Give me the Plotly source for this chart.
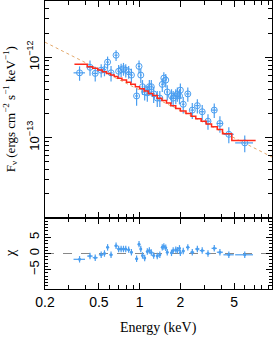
import plotly.graph_objects as go

# ---- data ----
energy = [0.36, 0.43, 0.47, 0.52, 0.55, 0.58, 0.615, 0.67, 0.70, 0.73, 0.76, 0.79, 0.83, 0.87,
          0.95, 0.99, 1.02, 1.05, 1.09, 1.14, 1.18, 1.22, 1.27, 1.35, 1.41, 1.47, 1.51, 1.56,
          1.60, 1.72, 1.77, 1.85, 1.90, 1.97, 2.00, 2.10, 2.27, 2.45, 2.67, 2.90, 3.20, 3.56,
          3.92, 4.56, 5.98]
energy_err = [0.035, 0.02, 0.02, 0.02, 0.015, 0.015, 0.017, 0.018, 0.015, 0.015, 0.015, 0.015, 0.02, 0.02,
              0.025, 0.02, 0.015, 0.015, 0.02, 0.02, 0.02, 0.02, 0.03, 0.03, 0.03, 0.025, 0.02, 0.025,
              0.03, 0.03, 0.03, 0.03, 0.03, 0.03, 0.03, 0.05, 0.07, 0.08, 0.1, 0.12, 0.14, 0.16,
              0.2, 0.4, 0.9]
flux = [6.4e-13, 7.5e-13, 6.3e-13, 6.9e-13, 7.0e-13, 8.7e-13, 6.4e-13, 1.06e-12, 6.7e-13, 7.0e-13,
        7.2e-13, 6.9e-13, 6.6e-13, 6.0e-13, 3.3e-13, 7.7e-13, 6.0e-13, 4.3e-13, 3.7e-13, 3.6e-13,
        4.3e-13, 4.3e-13, 3.5e-13, 3.1e-13, 3.1e-13, 4.6e-13, 5.5e-13, 5.2e-13, 3.7e-13, 3.3e-13,
        3.1e-13, 3.3e-13, 3.5e-13, 3.3e-13, 3.9e-13, 2.6e-13, 3.5e-13, 2.2e-13, 2.5e-13, 2.1e-13,
        1.6e-13, 2.2e-13, 1.5e-13, 1.1e-13, 8.6e-14]
flux_err = [1.3e-13, 1.6e-13, 1.3e-13, 1.3e-13, 1.2e-13, 1.5e-13, 1.4e-13, 1.6e-13, 1.3e-13, 1.3e-13,
            1.3e-13, 1.3e-13, 1.2e-13, 1.2e-13, 0.8e-13, 1.4e-13, 1.2e-13, 0.9e-13, 0.8e-13, 0.8e-13,
            0.9e-13, 0.9e-13, 0.8e-13, 0.7e-13, 0.7e-13, 0.9e-13, 1.0e-13, 1.0e-13, 0.8e-13, 0.7e-13,
            0.7e-13, 0.7e-13, 0.7e-13, 0.7e-13, 0.8e-13, 0.6e-13, 0.7e-13, 0.5e-13, 0.5e-13, 0.45e-13,
            0.35e-13, 0.45e-13, 0.35e-13, 0.25e-13, 0.2e-13]
chi = [-1.8, -0.8, -1.3, -0.4, 0.0, 1.9, -0.4, 2.4, 1.4, 1.4, 1.4, 1.4, 1.2, 0.4,
       -1.6, 2.9, 1.4, -0.6, -1.4, 0.6, 0.9, 0.3, -0.6, -0.8, -0.4, 1.9, 2.2, 1.8,
       0.4, 0.2, 0.9, 1.2, 1.0, 1.6, 0.2, 0.8, 1.9, 0.4, 1.4, 0.9, 0.0, 1.6,
       0.4, -0.4, -0.4]
chi_err = [1.0] * 45

# step model (bin edges and values)
model_edges = [0.33, 0.41, 0.45, 0.49, 0.53, 0.57, 0.61, 0.65, 0.69, 0.74, 0.80, 0.86, 0.93, 1.0,
               1.08, 1.16, 1.25, 1.35, 1.46, 1.58, 1.7, 1.85, 2.0, 2.2, 2.4, 2.6, 2.85, 3.1,
               3.4, 3.75, 4.1, 4.8, 7.2]
model_vals = [8.2e-13, 7.6e-13, 7.3e-13, 6.95e-13, 6.6e-13, 6.3e-13, 6.0e-13, 5.75e-13, 5.5e-13,
              5.2e-13, 4.9e-13, 4.6e-13, 4.3e-13, 4.05e-13, 3.8e-13, 3.55e-13, 3.35e-13, 3.1e-13,
              2.9e-13, 2.7e-13, 2.5e-13, 2.3e-13, 2.15e-13, 2.0e-13, 1.85e-13, 1.72e-13, 1.6e-13,
              1.48e-13, 1.37e-13, 1.26e-13, 1.12e-13, 9.2e-14]

# unfolded power-law (dotted)
pl_energy = [0.2, 10.0]
pl_flux = [1.54e-12, 5.5e-14]

x_ticks = [0.2, 0.5, 1, 2, 5]
x_ticktext = ["0.2", "0.5", "1", "2", "5"]
x_minor = [0.3, 0.4, 0.6, 0.7, 0.8, 0.9, 3, 4, 6, 7, 8, 9]
y_ticks = [1e-13, 1e-12]
y_ticktext = ["10<sup>−13</sup>", "10<sup>−12</sup>"]
y_minor = [2e-14, 3e-14, 4e-14, 5e-14, 6e-14, 7e-14, 8e-14, 9e-14,
           2e-13, 3e-13, 4e-13, 5e-13, 6e-13, 7e-13, 8e-13, 9e-13,
           2e-12, 3e-12, 4e-12]
chi_ticks = [-5, 0, 5]
chi_ticktext = ["−5", "0", "5"]

BLUE = "#4a9ef0"
RED = "#ff2a1a"

# build step line
step_x, step_y = [], []
for i, v in enumerate(model_vals):
    step_x += [model_edges[i], model_edges[i + 1]]
    step_y += [v, v]

fig = go.Figure()

fig.add_trace(go.Scatter(x=pl_energy, y=pl_flux, mode="lines",
                         line=dict(color="#e3a86a", width=1, dash="dot"),
                         xaxis="x", yaxis="y", hoverinfo="skip"))
fig.add_trace(go.Scatter(x=energy, y=flux, mode="markers",
                         marker=dict(symbol="circle-open", size=6, color=BLUE, line=dict(width=1)),
                         error_y=dict(type="data", array=flux_err, color=BLUE, thickness=1.2, width=0),
                         error_x=dict(type="data", array=energy_err, color=BLUE, thickness=1.2, width=0),
                         xaxis="x", yaxis="y"))
fig.add_trace(go.Scatter(x=step_x, y=step_y, mode="lines",
                         line=dict(color=RED, width=1.5),
                         xaxis="x", yaxis="y"))

fig.add_trace(go.Scatter(x=[0.2, 10], y=[0, 0], mode="lines",
                         line=dict(color="#888888", width=1, dash="dash"),
                         xaxis="x2", yaxis="y2"))
fig.add_trace(go.Scatter(x=energy, y=chi, mode="markers",
                         marker=dict(symbol="circle", size=3, color=BLUE),
                         error_y=dict(type="data", array=chi_err, color=BLUE, thickness=1.2, width=0),
                         error_x=dict(type="data", array=energy_err, color=BLUE, thickness=1.2, width=0),
                         xaxis="x2", yaxis="y2"))

split = 0.2465
xrange = [-0.699, 0.978]
common_x = dict(type="log", range=xrange, showline=True, linecolor="black", linewidth=1,
                mirror="ticks", ticks="inside", ticklen=6, tickcolor="black",
                tickvals=x_ticks, ticktext=x_ticktext, showgrid=False, zeroline=False,
                minor=dict(tickvals=x_minor, ticks="inside", ticklen=4, tickcolor="black", showgrid=False))

fig.update_layout(
    width=274, height=339,
    margin=dict(l=45, r=2, t=1, b=50),
    paper_bgcolor="white", plot_bgcolor="white",
    showlegend=False,
    font=dict(family="Liberation Sans, Arial", size=13, color="black"),
    xaxis=dict(common_x, domain=[0, 1], anchor="y", showticklabels=False),
    yaxis=dict(type="log", range=[-14, -11.3], domain=[split, 1], anchor="x",
               showline=True, linecolor="black", linewidth=1, mirror="ticks",
               ticks="inside", ticklen=7, tickcolor="black",
               tickvals=y_ticks, ticktext=y_ticktext, tickangle=-90,
               tickfont=dict(size=13), showgrid=False, zeroline=False,
               minor=dict(tickvals=y_minor, ticks="inside", ticklen=4, tickcolor="black", showgrid=False)),
    xaxis2=dict(common_x, domain=[0, 1], anchor="y2", showticklabels=True, tickfont=dict(size=14)),
    yaxis2=dict(range=[-11, 11], domain=[0, split], anchor="x2",
                showline=True, linecolor="black", linewidth=1, mirror="ticks",
                ticks="inside", ticklen=6, tickcolor="black",
                tickvals=chi_ticks, ticktext=chi_ticktext, tickangle=-90,
                tickfont=dict(size=13), showgrid=False, zeroline=False,
                minor=dict(dtick=1, ticks="inside", ticklen=3, tickcolor="black", showgrid=False)),
)

fig.add_annotation(text="F<sub>ν</sub> (ergs cm<sup>−2</sup> s<sup>−1</sup> keV<sup>−1</sup>)",
                   xref="paper", yref="paper", x=-0.155, y=(split + 1) / 2,
                   xanchor="center", yanchor="middle", textangle=-90, showarrow=False,
                   font=dict(family="Liberation Serif, Times New Roman", size=13))
fig.add_annotation(text="χ", xref="paper", yref="paper", x=-0.155, y=split / 2,
                   xanchor="center", yanchor="middle", textangle=-90, showarrow=False,
                   font=dict(family="Liberation Serif, Times New Roman", size=15))
fig.add_annotation(text="Energy (keV)", xref="paper", yref="paper", x=0.5, y=-0.135,
                   xanchor="center", yanchor="middle", showarrow=False,
                   font=dict(family="Liberation Serif, Times New Roman", size=14))

fig.write_html("out.html", config={"displayModeBar": False},
               post_script="document.body.style.margin='0';document.body.style.overflow='hidden';")
